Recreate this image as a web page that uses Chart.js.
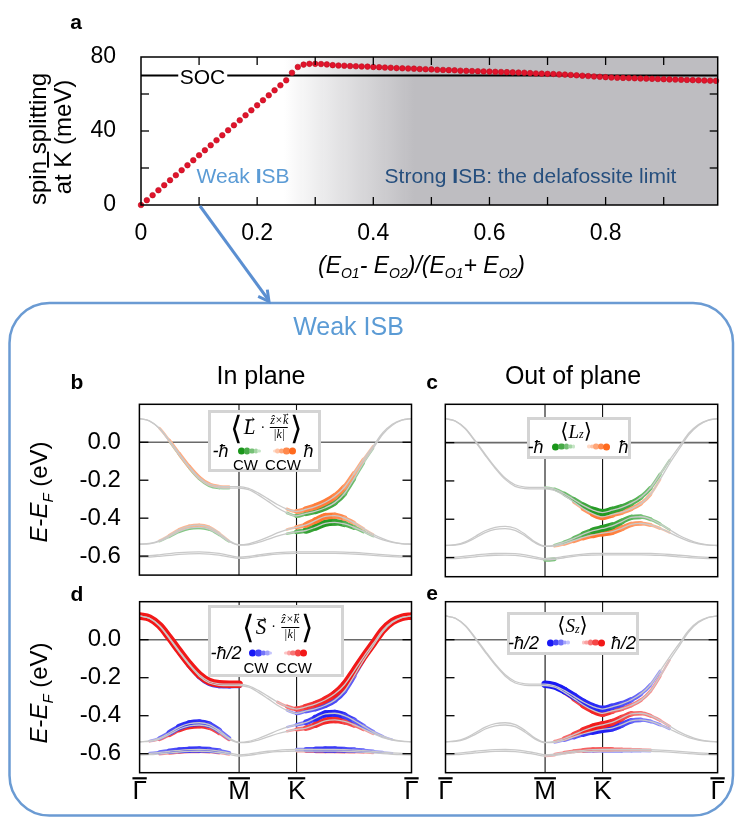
<!DOCTYPE html>
<html>
<head>
<meta charset="utf-8">
<title>Spin splitting vs ISB and band textures</title>
<script src="https://cdn.jsdelivr.net/npm/chart.js@4.4.1/dist/chart.umd.min.js"></script>
<style>
  body { margin: 0; background: #fff; }
  #page { position: relative; width: 737px; height: 817px; overflow: hidden; font-family: "Liberation Sans", Arial, sans-serif; color: #000; }
  #page canvas { position: absolute; }
  .t { position: absolute; white-space: nowrap; line-height: 1; transform: translate(-50%, -50%); }
  .rot { transform: translate(-50%, -50%) rotate(-90deg); }
  .lbl { font-weight: bold; font-size: 21px; }
  .leg { position: absolute; box-sizing: border-box; border: 3px solid #d4d4d4; background: #fff; }
  .math { display: flex; align-items: center; font-family: "Liberation Serif", "DejaVu Serif", serif; }
  .br { font-family: "DejaVu Sans", sans-serif; font-weight: 200; font-size: 32px; line-height: 1; }
  .vec { position: relative; display: inline-block; font-style: italic; }
  .vec::after { content: "\2192"; position: absolute; left: 55%; top: -0.5em; transform: translateX(-50%); font-size: 0.75em; font-style: normal; }
  .frac { display: inline-flex; flex-direction: column; align-items: center; font-size: 12px; font-style: italic; line-height: 1.1; margin: 0 2px; }
  .frac .den { border-top: 1px solid #000; padding: 0 3px; }
  .dots { display: flex; align-items: center; }
  .dots i { display: block; border-radius: 50%; margin-right: -1px; }
  .hb { font-style: italic; font-size: 18px; }
  .cw { font-size: 15px; }
</style>
</head>
<body>
<div id="page">
  <canvas id="chartA" width="737" height="300" style="left:0;top:0;"></canvas>
  <canvas id="chartB" width="425" height="230" style="left:0;top:370px;"></canvas>
  <canvas id="chartC" width="312" height="230" style="left:425px;top:370px;"></canvas>
  <canvas id="chartD" width="425" height="247" style="left:0;top:570px;"></canvas>
  <canvas id="chartE" width="312" height="247" style="left:425px;top:570px;"></canvas>

  <svg width="737" height="817" style="position:absolute;left:0;top:0;pointer-events:none;">
    <rect x="9.5" y="303" width="723.5" height="512.5" rx="40" ry="40" fill="none" stroke="#6b9bd3" stroke-width="2.5"/>
    <line x1="200" y1="206" x2="268.5" y2="300" stroke="#5b8fd1" stroke-width="3"/>
    <polyline points="267.3,289.6 269,301.5 258.2,296.3" fill="none" stroke="#5b8fd1" stroke-width="3"/>
  </svg>

  <!-- panel a texts -->
  <div class="t lbl" style="left:76px;top:21px;">a</div>
  <div class="t rot" style="left:37.5px;top:139px;font-size:24px;">spin splitting</div>
  <div class="t rot" style="left:63px;top:137px;font-size:24px;">at <span style="text-decoration:overline;">K</span> (meV)</div>
  <div class="t" style="left:421.5px;top:267px;font-size:23px;font-style:italic;">(E<sub style="font-size:14px;">O1</sub>- E<sub style="font-size:14px;">O2</sub>)/(E<sub style="font-size:14px;">O1</sub>+ E<sub style="font-size:14px;">O2</sub>)</div>
  <div class="t" style="left:202.5px;top:76px;font-size:21px;background:#fff;padding:0 2px;">SOC</div>
  <div class="t" style="left:243px;top:175px;font-size:21px;color:#5b9bd5;">Weak <b>I</b>SB</div>
  <div class="t" style="left:530.5px;top:175px;font-size:21px;color:#264f7e;">Strong <b>I</b>SB: the delafossite limit</div>

  <!-- box texts -->
  <div class="t" style="left:348.5px;top:326px;font-size:25px;color:#5b9bd5;">Weak ISB</div>
  <div class="t lbl" style="left:77px;top:380.5px;">b</div>
  <div class="t" style="left:261px;top:375px;font-size:25px;">In plane</div>
  <div class="t lbl" style="left:432px;top:380.5px;">c</div>
  <div class="t" style="left:573px;top:375px;font-size:25px;">Out of plane</div>
  <div class="t lbl" style="left:77px;top:593px;">d</div>
  <div class="t lbl" style="left:432px;top:592px;">e</div>
  <div class="t rot" style="left:41px;top:492px;font-size:24px;"><i>E</i>-<i>E</i><sub style="font-size:15px;"><i>F</i></sub> (eV)</div>
  <div class="t rot" style="left:41px;top:693px;font-size:24px;"><i>E</i>-<i>E</i><sub style="font-size:15px;"><i>F</i></sub> (eV)</div>

  <!-- legend b -->
  <div class="leg" style="left:207.5px;top:409.5px;width:113px;height:62px;">
    <div class="t math" style="left:55.5px;top:15px;">
      <span class="br">&#10216;</span><span class="vec" style="font-size:21px;margin:0 2px;">L</span><span style="font-size:14px;margin:0 3px;">&#183;</span>
      <span class="frac"><span>&#7825;&#215;<span class="vec">k</span></span><span class="den">|<i>k</i>|</span></span><span class="br">&#10217;</span>
    </div>
    <div class="t hb" style="left:10px;top:38.5px;">-&#295;</div>
    <div class="t dots" data-dots="neg" data-hex="#1a961a" style="left:38px;top:38.5px;"></div>
    <div class="t dots" data-dots="pos" data-hex="#ff6a1e" style="left:73px;top:38.5px;"></div>
    <div class="t hb" style="left:98px;top:38.5px;">&#295;</div>
    <div class="t cw" style="left:35px;top:51px;">CW</div>
    <div class="t cw" style="left:72.5px;top:51px;">CCW</div>
  </div>

  <!-- legend c -->
  <div class="leg" style="left:526.5px;top:416.5px;width:104.5px;height:42px;">
    <div class="t math" style="left:46.5px;top:11px;font-size:19px;">
      <span style="font-size:21px;">&#10216;</span><i>L</i><sub style="font-size:12px;margin-top:6px;"><i>z</i></sub><span style="font-size:21px;">&#10217;</span>
    </div>
    <div class="t hb" style="left:6px;top:27px;">-&#295;</div>
    <div class="t dots" data-dots="neg" data-hex="#1a961a" style="left:33.5px;top:27px;"></div>
    <div class="t dots" data-dots="pos" data-hex="#ff6a1e" style="left:68.5px;top:27px;"></div>
    <div class="t hb" style="left:94px;top:27px;">&#295;</div>
  </div>

  <!-- legend d -->
  <div class="leg" style="left:207.5px;top:605px;width:136.5px;height:72px;">
    <div class="t math" style="left:67px;top:19px;">
      <span class="br">&#10216;</span><span class="vec" style="font-size:21px;margin:0 2px;">S</span><span style="font-size:14px;margin:0 3px;">&#183;</span>
      <span class="frac"><span>&#7825;&#215;<span class="vec">k</span></span><span class="den">|<i>k</i>|</span></span><span class="br">&#10217;</span>
    </div>
    <div class="t hb" style="left:15.5px;top:45px;">-&#295;/2</div>
    <div class="t dots" data-dots="neg" data-hex="#1818f5" style="left:49.5px;top:45px;"></div>
    <div class="t dots" data-dots="pos" data-hex="#f21818" style="left:84.5px;top:45px;"></div>
    <div class="t cw" style="left:45.5px;top:59px;">CW</div>
    <div class="t cw" style="left:83.5px;top:59px;">CCW</div>
  </div>

  <!-- legend e -->
  <div class="leg" style="left:506.5px;top:611.5px;width:132.5px;height:43.5px;">
    <div class="t math" style="left:63px;top:10.5px;font-size:19px;">
      <span style="font-size:21px;">&#10216;</span><i>S</i><sub style="font-size:12px;margin-top:6px;"><i>z</i></sub><span style="font-size:21px;">&#10217;</span>
    </div>
    <div class="t hb" style="left:14px;top:28px;">-&#295;/2</div>
    <div class="t dots" data-dots="neg" data-hex="#1818f5" style="left:48px;top:28px;"></div>
    <div class="t dots" data-dots="pos" data-hex="#f21818" style="left:83px;top:28px;"></div>
    <div class="t hb" style="left:114px;top:28px;">&#295;/2</div>
  </div>
</div>

<script>
/* ---------- panel a data ---------- */
var isbRatio = [0, 0.01, 0.02, 0.03, 0.04, 0.05, 0.06, 0.07, 0.08, 0.09,
  0.10, 0.11, 0.12, 0.13, 0.14, 0.15, 0.16, 0.17, 0.18, 0.19,
  0.20, 0.21, 0.22, 0.23, 0.24, 0.25, 0.26, 0.27, 0.28, 0.29,
  0.30, 0.31, 0.32, 0.33, 0.34, 0.35, 0.36, 0.37, 0.38, 0.39,
  0.40, 0.41, 0.42, 0.43, 0.44, 0.45, 0.46, 0.47, 0.48, 0.49,
  0.50, 0.51, 0.52, 0.53, 0.54, 0.55, 0.56, 0.57, 0.58, 0.59,
  0.60, 0.61, 0.62, 0.63, 0.64, 0.65, 0.66, 0.67, 0.68, 0.69,
  0.70, 0.71, 0.72, 0.73, 0.74, 0.75, 0.76, 0.77, 0.78, 0.79,
  0.80, 0.81, 0.82, 0.83, 0.84, 0.85, 0.86, 0.87, 0.88, 0.89,
  0.90, 0.91, 0.92, 0.93, 0.94, 0.95, 0.96, 0.97, 0.98, 0.99];
var spinSplit = [0, 2.6, 5.3, 8.0, 10.7, 13.4, 16.1, 18.8, 21.5, 24.2,
  26.9, 29.6, 32.3, 35.0, 37.7, 40.4, 43.1, 45.8, 48.5, 51.2,
  53.9, 56.6, 59.3, 62.0, 64.7, 67.4, 71.5, 74.6, 75.9, 76.3,
  76.3, 76.2, 76.0, 75.6, 75.4, 75.3, 75.1, 75.0, 74.9, 74.8,
  74.6, 74.5, 74.3, 74.2, 74.0, 73.9, 73.8, 73.7, 73.5, 73.4,
  73.3, 73.1, 73.0, 72.9, 72.8, 72.6, 72.5, 72.4, 72.3, 72.2,
  72.1, 72.0, 71.9, 71.8, 71.7, 71.6, 71.5, 71.3, 71.1, 71.0,
  70.9, 70.8, 70.6, 70.5, 70.3, 70.1, 69.9, 69.7, 69.5, 69.3,
  69.1, 68.9, 68.8, 68.7, 68.6, 68.5, 68.4, 68.3, 68.2, 68.1,
  68.0, 67.9, 67.8, 67.7, 67.6, 67.5, 67.4, 67.3, 67.2, 67.1];
var socLevel = 70;
var ratioMax = 0.993;
var shadeFrom = 0.245, shadeTo = 0.47;

/* ---------- band structure data (b-e) ---------- */
// k path: Gamma (0) -> M (0.866) -> K (1.366) -> Gamma (2.366)
var kPath = [0, 0.087, 0.173, 0.26, 0.346, 0.433, 0.52, 0.606, 0.693, 0.779, 0.866,
  0.949, 1.033, 1.116, 1.199, 1.283, 1.366,
  1.449, 1.533, 1.616, 1.699, 1.783, 1.866, 1.949, 2.033, 2.116, 2.199, 2.283, 2.366];
var symPoints = [0, 0.866, 1.366, 2.366];
var symLabels = ['\u0393', 'M', 'K', '\u0393'];

var bandAu = [0.125, 0.113, 0.075, 0.01, -0.06, -0.128, -0.185, -0.22, -0.232, -0.234, -0.234,
  -0.243, -0.267, -0.297, -0.328, -0.352, -0.365,
  -0.353, -0.338, -0.316, -0.285, -0.237, -0.165, -0.09, -0.02, 0.05, 0.095, 0.118, 0.125];
var bandAl = [0.125, 0.112, 0.072, 0.005, -0.066, -0.134, -0.192, -0.228, -0.24, -0.242, -0.241,
  -0.25, -0.277, -0.31, -0.345, -0.372, -0.388,
  -0.375, -0.363, -0.345, -0.318, -0.27, -0.192, -0.108, -0.032, 0.042, 0.09, 0.116, 0.125];
var bandBu = [-0.537, -0.533, -0.518, -0.49, -0.46, -0.442, -0.437, -0.447, -0.478, -0.518, -0.54,
  -0.535, -0.52, -0.5, -0.478, -0.46, -0.448,
  -0.435, -0.412, -0.39, -0.387, -0.4, -0.425, -0.455, -0.485, -0.508, -0.525, -0.534, -0.537];
var bandBl = [-0.537, -0.535, -0.523, -0.498, -0.47, -0.453, -0.449, -0.458, -0.487, -0.523, -0.542,
  -0.54, -0.528, -0.512, -0.495, -0.482, -0.472,
  -0.465, -0.447, -0.427, -0.422, -0.43, -0.448, -0.47, -0.495, -0.515, -0.528, -0.535, -0.537];
var bandCu = [-0.6, -0.598, -0.593, -0.587, -0.582, -0.579, -0.578, -0.58, -0.586, -0.596, -0.606,
  -0.602, -0.594, -0.587, -0.582, -0.579, -0.578,
  -0.578, -0.578, -0.578, -0.578, -0.579, -0.581, -0.584, -0.588, -0.592, -0.596, -0.599, -0.6];
var bandCl = [-0.606, -0.605, -0.601, -0.596, -0.591, -0.588, -0.587, -0.589, -0.595, -0.604, -0.612,
  -0.609, -0.601, -0.594, -0.589, -0.587, -0.586,
  -0.586, -0.586, -0.586, -0.586, -0.587, -0.589, -0.592, -0.596, -0.6, -0.603, -0.605, -0.606];

// projected weights, -1 (CW / -hbar) .. +1 (CCW / +hbar)
// b: in-plane L
var bLAu = [0, 0, 0.1, 0.25, 0.35, 0.4, 0.4, 0.35, 0.25, 0.15, 0, 0, 0, 0, 0, 0.1, 0.45, 0.7, 0.8, 0.85, 0.8, 0.65, 0.45, 0.25, 0.1, 0, 0, 0, 0];
var bLAl = [0, 0, 0, -0.1, -0.15, -0.2, -0.25, -0.3, -0.25, -0.15, 0, 0, 0, 0, 0, -0.1, -0.35, -0.6, -0.75, -0.8, -0.75, -0.6, -0.4, -0.2, -0.05, 0, 0, 0, 0];
var bLBu = [0, 0, 0.05, 0.15, 0.25, 0.3, 0.3, 0.25, 0.15, 0.05, 0, 0, 0, 0, 0, 0.05, 0.3, 0.7, 0.85, 0.9, 0.8, 0.6, 0.35, 0.15, 0.05, 0, 0, 0, 0];
var bLBl = [0, 0, -0.05, -0.15, -0.3, -0.35, -0.35, -0.3, -0.2, -0.1, 0, 0, 0, 0, 0, -0.05, -0.35, -0.75, -0.9, -0.95, -0.9, -0.75, -0.5, -0.25, -0.1, 0, 0, 0, 0];
// c: out-of-plane L
var cLzAu = [0, 0, 0, 0, 0, 0, 0, 0, 0, 0, -0.1, -0.25, -0.4, -0.55, -0.7, -0.85, -1, -0.9, -0.8, -0.7, -0.55, -0.4, -0.2, -0.05, 0, 0, 0, 0, 0];
var cLzAl = [0, 0, 0, 0, 0, 0, 0, 0, 0, 0, 0, 0, 0, 0.2, 0.45, 0.7, 0.95, 0.75, 0.6, 0.5, 0.4, 0.25, 0.1, 0, 0, 0, 0, 0, 0];
var cLzBu = [0, 0, 0, 0, 0, 0, 0, 0, 0, 0, 0, -0.15, -0.3, -0.45, -0.6, -0.8, -1, -0.85, -0.7, -0.6, -0.5, -0.35, -0.2, -0.05, 0, 0, 0, 0, 0];
var cLzBl = [0, 0, 0, 0, 0, 0, 0, 0, 0, 0, 0, 0.2, 0.35, 0.5, 0.65, 0.8, 0.95, 0.85, 0.7, 0.6, 0.5, 0.35, 0.2, 0.05, 0, 0, 0, 0, 0];
var cLzCl = [0, 0, 0, 0, 0, 0, 0, 0, 0, 0, -0.5, -0.3, 0, 0, 0, 0, 0, 0, 0, 0, 0, 0, 0, 0, 0, 0, 0, 0, 0];
// d: in-plane S
var dSAu = [1, 1, 1, 1, 1, 1, 1, 1, 1, 1, 1, 0, 0, 0, 0.1, 0.3, 0.6, 0.75, 0.85, 0.9, 0.95, 1, 1, 1, 1, 1, 1, 1, 1];
var dSAl = [0.5, 0.4, 0.2, -0.3, -0.55, -0.7, -0.75, -0.75, -0.75, -0.7, -0.6, 0, 0, 0, 0, -0.1, -0.3, -0.5, -0.65, -0.7, -0.7, -0.65, -0.5, -0.25, 0.1, 0.3, 0.45, 0.5, 0.5];
var dSBu = [0, -0.05, -0.3, -0.6, -0.8, -0.9, -0.9, -0.8, -0.6, -0.3, 0, 0, 0, 0, 0, -0.05, -0.2, -0.6, -0.85, -0.95, -0.95, -0.85, -0.65, -0.5, -0.3, -0.15, -0.05, 0, 0];
var dSBl = [0, 0.05, 0.3, 0.6, 0.8, 0.9, 0.9, 0.8, 0.6, 0.3, 0, 0, 0, 0, 0, 0.05, 0.3, 0.6, 0.8, 0.9, 0.9, 0.8, 0.6, 0.35, 0.1, 0, 0, 0, 0];
var dSCu = [0, -0.1, -0.4, -0.6, -0.75, -0.8, -0.8, -0.75, -0.6, -0.3, 0, 0, 0, 0, 0, 0, -0.1, -0.5, -0.75, -0.8, -0.8, -0.75, -0.6, -0.45, -0.3, -0.15, -0.05, 0, 0];
var dSCl = [0, 0, 0.2, 0.3, 0.4, 0.4, 0.4, 0.35, 0.25, 0.1, 0, 0, 0, 0, 0, 0, 0.1, 0.3, 0.45, 0.5, 0.5, 0.45, 0.35, 0.2, 0.1, 0, 0, 0, 0];
// e: out-of-plane S
var eSzAu = [0, 0, 0, 0, 0, 0, 0, 0, 0, 0, -1, -1, -1, -0.95, -0.9, -0.9, -0.9, -0.8, -0.7, -0.6, -0.45, -0.3, -0.15, 0, 0, 0, 0, 0, 0];
var eSzAl = [0, 0, 0, 0, 0, 0, 0, 0, 0, 0, 0, 0.2, 0.4, 0.6, 0.8, 0.9, 0.95, 0.7, 0.5, 0.4, 0.35, 0.3, 0.2, 0.05, 0, 0, 0, 0, 0];
var eSzBu = [0, 0, 0, 0, 0, 0, 0, 0, 0, 0, 0, 0.2, 0.4, 0.6, 0.8, 1, 1, 0.9, 0.8, 0.6, 0.45, 0.35, 0.25, 0.1, 0, 0, 0, 0, 0];
var eSzBl = [0, 0, 0, 0, 0, 0, 0, 0, 0, 0, 0, -0.1, -0.3, -0.5, -0.7, -0.9, -1, -0.9, -0.8, -0.6, -0.45, -0.35, -0.25, -0.1, 0, 0, 0, 0, 0];
var eSzCu = [0, 0, 0, 0, 0, 0, 0, 0, 0, 0, 0, 0.1, 0.3, 0.4, 0.5, 0.6, 0.6, 0.5, 0.4, 0.3, 0.2, 0.1, 0, 0, 0, 0, 0, 0, 0];
var eSzCl = [0, 0, 0, 0, 0, 0, 0, 0, 0, 0, 0.2, 0.1, 0, 0, -0.15, -0.25, -0.3, -0.3, -0.3, -0.25, -0.2, -0.1, 0, 0, 0, 0, 0, 0, 0];

var FONT = '"Liberation Sans", Arial, sans-serif';
var GREEN = '#1a961a', ORANGE = '#ff6a1e', BLUE = '#1818f5', RED = '#f21818';

Chart.defaults.font.family = FONT;
Chart.defaults.color = '#000';

function tint(hex, t) {
    var r = parseInt(hex.substr(1, 2), 16), g = parseInt(hex.substr(3, 2), 16), b = parseInt(hex.substr(5, 2), 16);
    return 'rgb(' + Math.round(255 + (r - 255) * t) + ',' + Math.round(255 + (g - 255) * t) + ',' + Math.round(255 + (b - 255) * t) + ')';
}

/* legend dot strips */
document.querySelectorAll('[data-dots]').forEach(function(el) {
    var sizes = [7, 6.5, 5.5, 4.5, 3.5], shades = [1, 0.8, 0.6, 0.4, 0.25];
    var order = el.getAttribute('data-dots') === 'neg' ? [0, 1, 2, 3, 4] : [4, 3, 2, 1, 0];
    var hex = el.getAttribute('data-hex');
    order.forEach(function(i) {
        var d = document.createElement('i');
        d.style.width = sizes[i] + 'px';
        d.style.height = sizes[i] + 'px';
        d.style.background = tint(hex, shades[i]);
        el.appendChild(d);
    });
});

/* frame, inward ticks, reference lines, background shade */
var framePlugin = {
    id: 'frame',
    beforeDatasetsDraw: function(chart, args, o) {
        var ctx = chart.ctx, a = chart.chartArea, x = chart.scales.x, y = chart.scales.y;
        ctx.save();
        if (o.shade) {
            var x0 = x.getPixelForValue(o.shade[0]), x1 = x.getPixelForValue(o.shade[1]);
            var g = ctx.createLinearGradient(x0, 0, x1, 0);
            g.addColorStop(0, 'rgba(190,189,193,0)');
            g.addColorStop(1, 'rgb(190,189,193)');
            ctx.fillStyle = g;
            ctx.fillRect(x0, a.top, a.right - x0, a.bottom - a.top);
        }
        if (o.zeroLine) {
            var py = y.getPixelForValue(0);
            ctx.strokeStyle = '#6a6a6a';
            ctx.lineWidth = 1.6;
            ctx.beginPath(); ctx.moveTo(a.left, py); ctx.lineTo(a.right, py); ctx.stroke();
        }
        if (o.vLines) {
            ctx.strokeStyle = '#111';
            ctx.lineWidth = 1.1;
            o.vLines.forEach(function(v) {
                var px = x.getPixelForValue(v);
                ctx.beginPath(); ctx.moveTo(px, a.top); ctx.lineTo(px, a.bottom); ctx.stroke();
            });
        }
        ctx.restore();
    },
    afterDatasetsDraw: function(chart, args, o) {
        var ctx = chart.ctx, a = chart.chartArea, x = chart.scales.x, y = chart.scales.y;
        var len = o.tickLen || 8;
        ctx.save();
        ctx.strokeStyle = '#000';
        ctx.lineWidth = 1.3;
        function seg(x1, y1, x2, y2) { ctx.beginPath(); ctx.moveTo(x1, y1); ctx.lineTo(x2, y2); ctx.stroke(); }
        if (o.xTicks) {
            x.ticks.forEach(function(t) {
                var px = x.getPixelForValue(t.value);
                if (px <= a.left + 1 || px >= a.right - 1) return;
                seg(px, a.bottom, px, a.bottom - len);
                seg(px, a.top, px, a.top + len);
            });
        }
        y.ticks.forEach(function(t) {
            var py = y.getPixelForValue(t.value);
            if (py <= a.top + 1 || py >= a.bottom - 1) return;
            seg(a.left, py, a.left + len, py);
            seg(a.right, py, a.right - len, py);
        });
        ctx.lineWidth = 1.5;
        ctx.strokeRect(a.left, a.top, a.right - a.left, a.bottom - a.top);
        ctx.restore();
    },
    afterDraw: function(chart, args, o) {
        if (!o.overline) return;
        var ctx = chart.ctx, a = chart.chartArea, x = chart.scales.x;
        ctx.save();
        ctx.font = '26px ' + FONT;
        ctx.fillStyle = '#000';
        x.ticks.forEach(function(t, i) {
            var w = ctx.measureText(symLabels[i]).width;
            var px = x.getPixelForValue(t.value);
            ctx.fillRect(px - w / 2, a.bottom + o.overline, w, 2.2);
        });
        ctx.restore();
    }
};

/* ---------- panel a ---------- */
new Chart(document.getElementById('chartA'), {
    type: 'scatter',
    data: {
        datasets: [{
            data: isbRatio.map(function(r, i) { return { x: r, y: spinSplit[i] }; }),
            pointRadius: 2.8,
            pointBackgroundColor: '#e2132c',
            pointBorderColor: '#b8101f',
            pointBorderWidth: 0.6,
            clip: false,
            order: 0
        }, {
            data: [{ x: 0, y: socLevel }, { x: ratioMax, y: socLevel }],
            showLine: true,
            borderColor: '#000',
            borderWidth: 2.2,
            pointRadius: 0,
            order: 1
        }]
    },
    options: {
        responsive: false,
        animation: false,
        events: [],
        layout: { padding: { left: 0, right: 19.3, top: 57, bottom: 0 } },
        plugins: {
            legend: { display: false },
            tooltip: { enabled: false },
            frame: { shade: [shadeFrom, shadeTo], xTicks: true, tickLen: 8 }
        },
        scales: {
            x: {
                type: 'linear', min: 0, max: ratioMax,
                grid: { display: false }, border: { display: false },
                ticks: {
                    stepSize: 0.1, includeBounds: false, autoSkip: false, maxRotation: 0, padding: 7,
                    font: { size: 23 },
                    callback: function(v) { var t = Math.round(v * 10); return t % 2 === 0 ? String(t / 10) : ''; }
                },
                afterFit: function(s) { s.height = 95; }
            },
            y: {
                min: 0, max: 80,
                grid: { display: false }, border: { display: false },
                ticks: {
                    stepSize: 20, padding: 17, font: { size: 23 },
                    callback: function(v) { return v % 40 === 0 ? String(v) : ''; }
                },
                afterFit: function(s) { s.width = 141; }
            }
        }
    },
    plugins: [framePlugin]
});

/* ---------- panels b-e ---------- */
var bandLines = [bandAu, bandAl, bandBu, bandBl, bandCu, bandCl];

function pts(energy) {
    return kPath.map(function(k, i) { return { x: k, y: energy[i] }; });
}

function fatSet(energy, w, pos, neg, order) {
    function segW(ctx) {
        var a = w[ctx.p0DataIndex], b = w[ctx.p1DataIndex];
        if (!a || !b) return 0;
        return (a + b) / 2;
    }
    return {
        data: pts(energy),
        order: order,
        pointRadius: 0,
        borderWidth: 1,
        borderColor: 'rgba(0,0,0,0)',
        cubicInterpolationMode: 'monotone',
        borderCapStyle: 'round',
        borderJoinStyle: 'round',
        segment: {
            borderColor: function(ctx) {
                var v = segW(ctx);
                return v === 0 ? 'rgba(0,0,0,0)' : tint(v > 0 ? pos : neg, 0.3 + 0.7 * Math.abs(v));
            },
            borderWidth: function(ctx) { return 1.5 + 6 * Math.abs(segW(ctx)); }
        }
    };
}

function bandChart(id, weights, pos, neg, cfg) {
    var sets = [];
    bandLines.forEach(function(e, i) {
        if (weights[i]) sets.push(fatSet(e, weights[i], pos, neg, i % 2 === 0 ? 1 : 2));
        sets.push({
            data: pts(e), order: 0, pointRadius: 0,
            borderWidth: 1.3, borderColor: '#c9c9c9',
            cubicInterpolationMode: 'monotone'
        });
    });
    return new Chart(document.getElementById(id), {
        type: 'line',
        data: { datasets: sets },
        options: {
            responsive: false,
            animation: false,
            events: [],
            layout: { padding: cfg.padding },
            plugins: {
                legend: { display: false },
                tooltip: { enabled: false },
                frame: { zeroLine: true, vLines: [symPoints[1], symPoints[2]], tickLen: 9, overline: cfg.showK ? 4.5 : 0 }
            },
            scales: {
                x: {
                    type: 'linear', min: symPoints[0], max: symPoints[3], display: cfg.showK,
                    grid: { display: false }, border: { display: false },
                    afterBuildTicks: function(s) { s.ticks = symPoints.map(function(v) { return { value: v }; }); },
                    ticks: {
                        autoSkip: false, maxRotation: 0, padding: -4, font: { size: 26 },
                        callback: function(v, i) { return symLabels[i]; }
                    },
                    afterFit: function(s) { if (cfg.showK) s.height = 44.3; }
                },
                y: {
                    min: -0.7, max: 0.2,
                    grid: { display: false }, border: { display: false },
                    ticks: {
                        stepSize: 0.2, includeBounds: false, display: cfg.showE, padding: 10.5, font: { size: 24 },
                        callback: function(v) { return v > 0.1 ? '' : v.toFixed(1); }
                    },
                    afterFit: function(s) { s.width = cfg.yWidth; }
                }
            }
        },
        plugins: [framePlugin]
    });
}

bandChart('chartB', [bLAu, bLAl, bLBu, bLBl, null, null], ORANGE, GREEN,
    { padding: { left: 0, right: 13.5, top: 34.3, bottom: 23.3 }, yWidth: 139.4, showE: true, showK: false });
bandChart('chartC', [cLzAu, cLzAl, cLzBu, cLzBl, null, cLzCl], ORANGE, GREEN,
    { padding: { left: 0, right: 19.3, top: 34.3, bottom: 23.3 }, yWidth: 20.3, showE: false, showK: false });
bandChart('chartD', [dSAu, dSAl, dSBu, dSBl, dSCu, dSCl], RED, BLUE,
    { padding: { left: 0, right: 13.5, top: 31.7, bottom: 0 }, yWidth: 139.6, showE: true, showK: true });
bandChart('chartE', [eSzAu, eSzAl, eSzBu, eSzBl, eSzCu, eSzCl], RED, BLUE,
    { padding: { left: 0, right: 19.4, top: 31.7, bottom: 0 }, yWidth: 20.5, showE: false, showK: true });
</script>
</body>
</html>
